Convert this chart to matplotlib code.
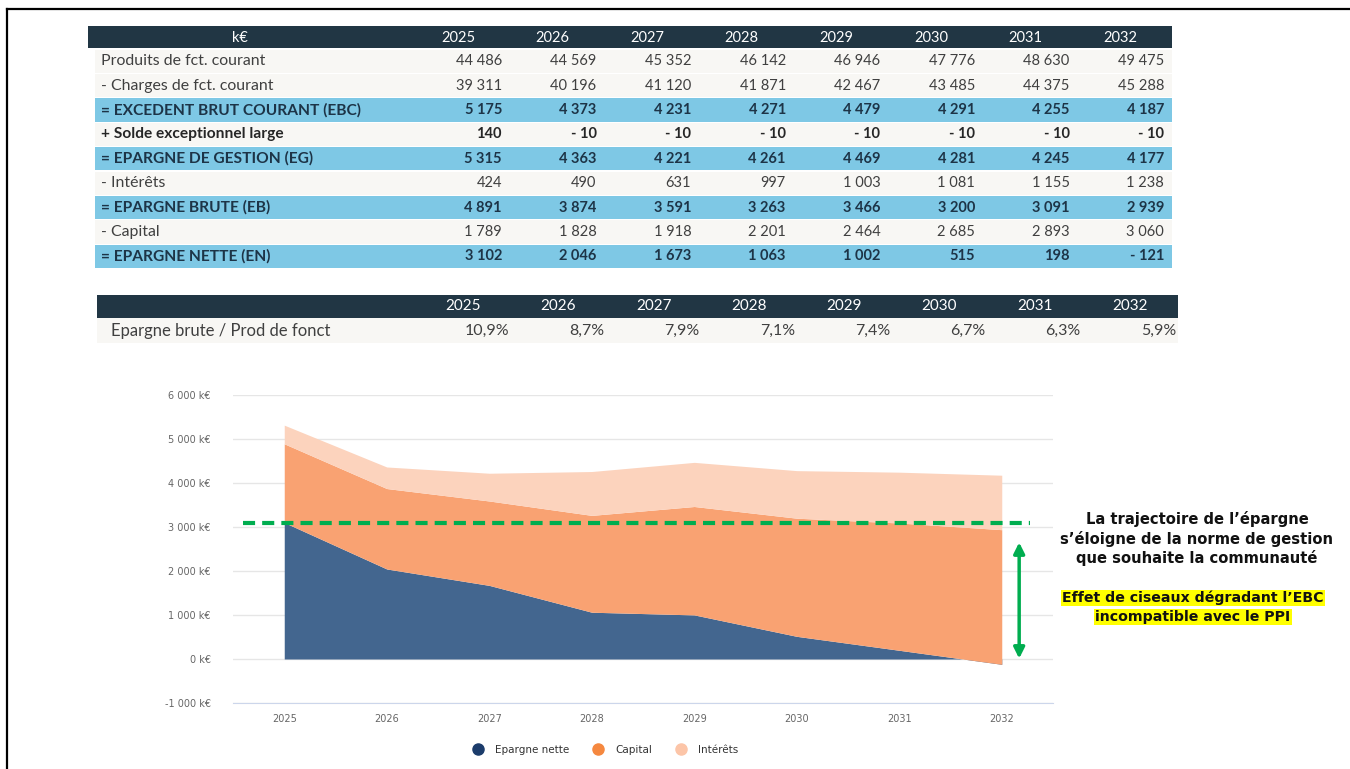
import matplotlib.pyplot as plt
import numpy as np
from matplotlib.lines import Line2D
from matplotlib.patches import Rectangle
from matplotlib.ticker import FuncFormatter, MultipleLocator

years = ['2025', '2026', '2027', '2028', '2029', '2030', '2031', '2032']

produits = [44486, 44569, 45352, 46142, 46946, 47776, 48630, 49475]
charges = [39311, 40196, 41120, 41871, 42467, 43485, 44375, 45288]
ebc = [5175, 4373, 4231, 4271, 4479, 4291, 4255, 4187]
solde = [140, -10, -10, -10, -10, -10, -10, -10]
eg = [5315, 4363, 4221, 4261, 4469, 4281, 4245, 4177]
interets = [424, 490, 631, 997, 1003, 1081, 1155, 1238]
eb = [4891, 3874, 3591, 3263, 3466, 3200, 3091, 2939]
capital = [1789, 1828, 1918, 2201, 2464, 2685, 2893, 3060]
en = [3102, 2046, 1673, 1063, 1002, 515, 198, -121]
ratio = [10.9, 8.7, 7.9, 7.1, 7.4, 6.7, 6.3, 5.9]

rows = [
    ('Produits de fct. courant', produits, 'plain'),
    ('- Charges de fct. courant', charges, 'plain'),
    ('= EXCEDENT BRUT COURANT (EBC)', ebc, 'hl'),
    ('+ Solde exceptionnel large', solde, 'bold'),
    ('= EPARGNE DE GESTION (EG)', eg, 'hl'),
    ('- Intérêts', interets, 'plain'),
    ('= EPARGNE BRUTE (EB)', eb, 'hl'),
    ('- Capital', capital, 'plain'),
    ('= EPARGNE NETTE (EN)', en, 'hl'),
]

series_names = ['Epargne nette', 'Capital', 'Intérêts']
fill_colors = ['#43668f', '#f9a272', '#fcd3bd']
legend_colors = ['#1c3c6b', '#f5883f', '#fcc5a8']

HEAD = '#213644'
HL = '#7ec8e5'
LIGHT = '#f8f7f4'
GREEN = '#00ad4f'


def fmt(v):
    s = f'{abs(v):,}'.replace(',', ' ')
    return '- ' + s if v < 0 else s


fig = plt.figure(figsize=(13.5, 7.69), dpi=100)
lay = fig.add_axes([0, 0, 1, 1])
lay.set_xlim(0, 1350)
lay.set_ylim(769, 0)
lay.axis('off')

# frame
lay.plot([7, 7], [9, 769], color='black', lw=1.6)
lay.plot([7, 1350], [9, 9], color='black', lw=1.6)

# ---- table 1
col_c = [458 + 94.6 * i for i in range(len(years))]
lay.add_patch(Rectangle((88, 26), 1084, 22, color=HEAD, lw=0))
lay.text(240, 37.5, 'k€', color='white', fontsize=10.5, family='Lato',
         ha='center', va='center')
for c, y in zip(col_c, years):
    lay.text(c, 37.5, y, color='white', fontsize=10.5, family='Lato',
             ha='center', va='center')

pitch = 24.4
for i, (lab, vals, kind) in enumerate(rows):
    top = 49 + i * pitch
    bg = HL if kind == 'hl' else LIGHT
    lay.add_patch(Rectangle((95, top + 0.6), 1077, pitch - 1.2, color=bg, lw=0))
    weight = 'normal' if kind == 'plain' else 'bold'
    col = '#404040' if kind == 'plain' else ('#1d3447' if kind == 'hl' else '#262626')
    yc = top + pitch / 2
    lay.text(101, yc, lab, fontsize=11.4 if kind == 'plain' else 11.2,
             family='Lato', weight=weight, color=col, ha='left', va='center')
    for c, v in zip(col_c, vals):
        lay.text(c + 44, yc, fmt(v), fontsize=10.5, family='Lato',
                 weight=weight, color=col, ha='right', va='center')

# ---- table 2
col2 = [463 + 95.3 * i for i in range(len(years))]
lay.add_patch(Rectangle((97, 295), 1081, 22.5, color=HEAD, lw=0))
lay.add_patch(Rectangle((97, 318), 1081, 25, color=LIGHT, lw=0))
for c, y in zip(col2, years):
    lay.text(c, 306.5, y, color='white', fontsize=11, family='Lato',
             ha='center', va='center')
lay.text(111, 331, 'Epargne brute / Prod de fonct', fontsize=12,
         family='Lato', color='#404040', ha='left', va='center')
for c, v in zip(col2, ratio):
    lay.text(c + 46, 331, f'{v:.1f}%'.replace('.', ','), fontsize=11.5,
             family='Lato', color='#404040', ha='right', va='center')

# ---- stacked area chart
ax = fig.add_axes([233 / 1350, 1 - 703 / 769, (1053 - 233) / 1350, (703 - 395) / 769])
x = np.arange(len(years))
stack = np.cumsum(np.array([en, capital, interets]), axis=0)
base = np.zeros(len(years))
for level, col in zip(stack, fill_colors):
    ax.fill_between(x, base, level, color=col, lw=0)
    base = level

ax.set_xlim(-0.5, len(years) - 0.5)
ax.set_ylim(-1000, 6000)
ax.yaxis.set_major_locator(MultipleLocator(1000))
ax.yaxis.set_major_formatter(FuncFormatter(
    lambda v, p: ('-' if v < 0 else '') + f'{abs(int(v)):,}'.replace(',', ' ') + ' k€'))
ax.set_xticks(x)
ax.set_xticklabels(years)
ax.grid(axis='y', color='#e6e6e6', lw=1)
ax.set_axisbelow(True)
for s in ['top', 'right', 'left']:
    ax.spines[s].set_visible(False)
ax.spines['bottom'].set_color('#ccd6eb')
ax.tick_params(length=0, labelsize=7, labelcolor='#666666', pad=8)
ax.tick_params(axis='y', pad=16)

# norm line and scissors arrow
ax.plot([-0.4, 7.28], [en[0], en[0]], color=GREEN, lw=3,
        linestyle=(0, (2.9, 1.7)), clip_on=False, zorder=5)
ax.annotate('', xy=(7.17, 2650), xytext=(7.17, 10),
            arrowprops=dict(arrowstyle='<|-|>', color=GREEN, lw=2.5,
                            mutation_scale=16, shrinkA=0, shrinkB=0))

# annotation text
for yy, t in zip([519, 539, 558], ["La trajectoire de l’épargne",
                                    "s’éloigne de la norme de gestion",
                                    'que souhaite la communauté']):
    lay.text(1197, yy, t, fontsize=10.6, family='DejaVu Sans', weight='bold',
             color='#111111', ha='center', va='center')
for yy, t in zip([598, 617], ["Effet de ciseaux dégradant l’EBC",
                               'incompatible avec le PPI']):
    lay.text(1193, yy, t, fontsize=10.2, family='DejaVu Sans', weight='bold',
             color='#111111', ha='center', va='center',
             bbox=dict(facecolor='#ffff00', edgecolor='none', pad=0.8))

handles = [Line2D([], [], marker='o', ls='', markersize=8, color=c)
           for c in legend_colors]
fig.legend(handles, series_names, loc='center', bbox_to_anchor=(603 / 1350, 1 - 750 / 769),
           ncol=3, frameon=False, fontsize=7.5, handletextpad=0.6,
           columnspacing=1.8, labelcolor='#333333')

fig.savefig('out.png', dpi=100)
